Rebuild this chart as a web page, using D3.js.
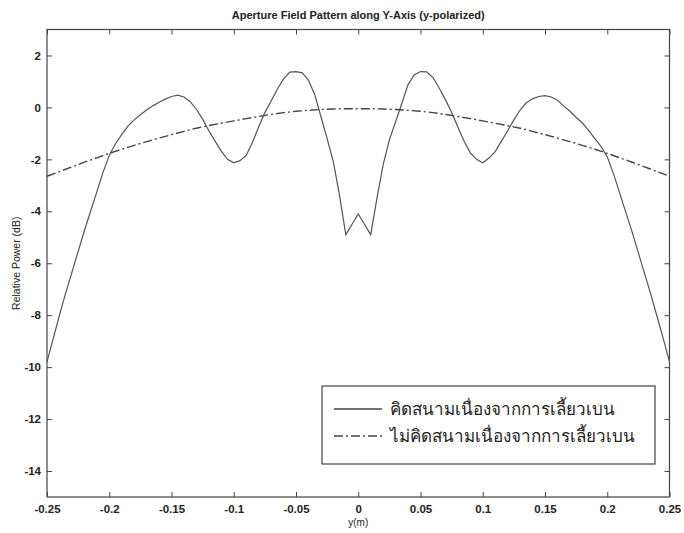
<!DOCTYPE html>
<html>
<head>
<meta charset="utf-8">
<script src="https://cdn.jsdelivr.net/npm/d3@7"></script>
<style>
body { margin: 0; background: #fff; }
text { font-family: "Liberation Sans", Arial, sans-serif; fill: #222; }
</style>
</head>
<body>
<div id="chart"></div>
<script>
// y position along aperture (m)
var xSolid = d3.range(0, 101).map(function(i) { return -0.25 + i * 0.005; });
var xDash = d3.range(0, 51).map(function(i) { return -0.25 + i * 0.01; });

// relative power (dB), with diffraction field
var withDiff = [
  -9.8, -8.9, -8.0, -7.15, -6.35, -5.55, -4.75, -4.0, -3.25, -2.5,
  -1.85, -1.4, -1.05, -0.72, -0.48, -0.28, -0.1, 0.06, 0.2, 0.32,
  0.42, 0.47, 0.4, 0.22, -0.07, -0.45, -0.9, -1.3, -1.68, -2.0,
  -2.13, -2.05, -1.85, -1.35, -0.75, -0.2, 0.25, 0.7, 1.1, 1.36,
  1.38, 1.33, 1.05, 0.5, -0.35, -1.2, -2.1, -3.4, -4.9, -4.5,
  -4.1,
  -4.5, -4.9, -3.5, -2.2, -1.25, -0.55, 0.15, 0.88, 1.25, 1.38,
  1.37, 1.15, 0.75, 0.3, -0.2, -0.75, -1.3, -1.75, -2.0, -2.13,
  -1.95, -1.7, -1.3, -0.9, -0.48, -0.1, 0.18, 0.33, 0.42, 0.45,
  0.4, 0.28, 0.06, -0.15, -0.38, -0.6, -0.88, -1.2, -1.5, -1.9,
  -2.55, -3.3, -4.05, -4.8, -5.6, -6.4, -7.2, -8.05, -8.9, -9.8
];

// relative power (dB), without diffraction field
var noDiff = [
  -2.65, -2.47, -2.29, -2.11, -1.94, -1.77, -1.61, -1.46, -1.32, -1.18,
  -1.05, -0.92, -0.8, -0.7, -0.61, -0.52, -0.43, -0.35, -0.27, -0.2,
  -0.15, -0.11, -0.08, -0.06, -0.05, -0.05, -0.05, -0.06, -0.08, -0.11,
  -0.15, -0.2, -0.27, -0.35, -0.43, -0.52, -0.61, -0.7, -0.8, -0.92,
  -1.05, -1.18, -1.32, -1.46, -1.61, -1.77, -1.94, -2.11, -2.29, -2.47,
  -2.65
];

var xTicks = [-0.25, -0.2, -0.15, -0.1, -0.05, 0, 0.05, 0.1, 0.15, 0.2, 0.25];
var yTicks = [2, 0, -2, -4, -6, -8, -10, -12, -14];
var legendLabels = ["คิดสนามเนื่องจากการเลี้ยวเบน", "ไม่คิดสนามเนื่องจากการเลี้ยวเบน"];

var margin = {top: 29.5, right: 14.5, bottom: 36, left: 47},
width = 684 - margin.left - margin.right,
height = 533 - margin.top - margin.bottom;

var svg = d3.select("#chart").append("svg")
.attr("width", 684)
.attr("height", 533);

var g = svg.append("g")
.attr("transform", "translate(" + margin.left + "," + margin.top + ")");

var x = d3.scaleLinear().domain([-0.25, 0.25]).range([0, width]);
var y = d3.scaleLinear().domain([-15, 3]).range([height, 0]);

var fmt = function(d) { return d === 0 ? "0" : String(d); };

// axes, ticks pointing inward
g.append("g")
.attr("transform", "translate(0," + height + ")")
.call(d3.axisBottom(x).tickValues(xTicks).tickFormat(fmt).tickSizeInner(-5).tickSizeOuter(0).tickPadding(8));
g.append("g")
.call(d3.axisTop(x).tickValues(xTicks).tickFormat("").tickSizeInner(-5).tickSizeOuter(0));
g.append("g")
.call(d3.axisLeft(y).tickValues(yTicks).tickFormat(fmt).tickSizeInner(-5).tickSizeOuter(0).tickPadding(6));
g.append("g")
.attr("transform", "translate(" + width + ",0)")
.call(d3.axisRight(y).tickValues(yTicks).tickFormat("").tickSizeInner(-5).tickSizeOuter(0));

g.selectAll(".domain").remove();
g.selectAll(".tick line").attr("stroke", "#444");
g.selectAll(".tick text").style("font-size", "11.5px").style("font-weight", "bold").attr("fill", "#222");

g.append("rect")
.attr("width", width)
.attr("height", height)
.attr("fill", "none")
.attr("stroke", "#444")
.attr("stroke-width", 1.2);

var line = d3.line()
.x(function(d) { return x(d[0]); })
.y(function(d) { return y(d[1]); });

g.append("path")
.datum(d3.zip(xSolid, withDiff))
.attr("fill", "none")
.attr("stroke", "#555")
.attr("stroke-width", 1.2)
.attr("d", line);

g.append("path")
.datum(d3.zip(xDash, noDiff))
.attr("fill", "none")
.attr("stroke", "#444")
.attr("stroke-width", 1.4)
.attr("stroke-dasharray", "9,3,2,3")
.attr("d", line);

// title and labels
svg.append("text")
.attr("x", margin.left + width / 2)
.attr("y", 19)
.attr("text-anchor", "middle")
.style("font-size", "11px")
.style("font-weight", "bold")
.text("Aperture Field Pattern along Y-Axis (y-polarized)");

svg.append("text")
.attr("x", margin.left + width / 2)
.attr("y", 526)
.attr("text-anchor", "middle")
.style("font-size", "10px")
.text("y(m)");

svg.append("text")
.attr("transform", "translate(20," + (margin.top + height / 2) + ") rotate(-90)")
.attr("text-anchor", "middle")
.style("font-size", "10.5px")
.text("Relative Power (dB)");

// legend
var lg = svg.append("g").attr("transform", "translate(322,386)");
lg.append("rect")
.attr("width", 333)
.attr("height", 78)
.attr("fill", "#fff")
.attr("stroke", "#444")
.attr("stroke-width", 1.2);

var rows = lg.selectAll(".row")
.data(legendLabels)
.enter().append("g")
.attr("transform", function(d, i) { return "translate(0," + (23 + i * 27) + ")"; });

rows.append("line")
.attr("x1", 12).attr("x2", 60)
.attr("stroke", "#444")
.attr("stroke-width", 1.3)
.attr("stroke-dasharray", function(d, i) { return i === 0 ? null : "9,3,2,3"; });

rows.append("text")
.attr("x", 68)
.attr("y", 6)
.style("font-size", "17px")
.text(function(d) { return d; });
</script>
</body>
</html>
